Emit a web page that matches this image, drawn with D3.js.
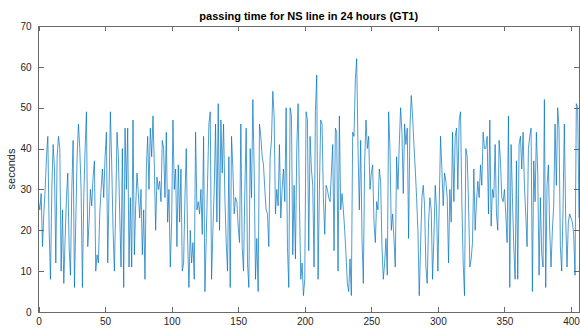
<!DOCTYPE html>
<html>
<head>
<meta charset="utf-8">
<script src="https://cdn.jsdelivr.net/npm/d3@7"></script>
<style>
  body { margin: 0; background: #fff; }
  text { font-family: "Liberation Sans", Arial, Helvetica, sans-serif; }
</style>
</head>
<body>
<script>
// passing time (seconds) per train
var passTime = [
  27, 25, 29, 16, 24, 30, 38, 43, 20, 8,
  30, 41, 35, 12, 38, 43, 40, 10, 25, 7,
  18, 28, 34, 16, 9, 30, 42, 6, 22, 38,
  46, 40, 30, 6, 28, 40, 49, 16, 22, 30,
  26, 33, 37, 10, 14, 12, 24, 30, 35, 28,
  38, 44, 12, 30, 49, 36, 20, 10, 26, 44,
  38, 24, 11, 40, 6, 45, 30, 45, 11, 28,
  11, 47, 14, 26, 34, 29, 23, 30, 14, 25,
  8, 35, 43, 30, 45, 38, 48, 36, 20, 33,
  30, 32, 27, 42, 40, 28, 44, 22, 30, 11,
  22, 47, 30, 35, 16, 36, 22, 35, 10, 12,
  28, 40, 18, 6, 20, 12, 17, 8, 44, 25,
  27, 24, 30, 19, 43, 5, 18, 32, 46, 49,
  8, 20, 30, 46, 22, 51, 20, 47, 34, 46,
  28, 17, 10, 38, 6, 43, 35, 24, 28, 27,
  21, 17, 46, 16, 10, 30, 45, 12, 6, 40,
  28, 52, 35, 8, 18, 5, 46, 43, 38, 36,
  30, 25, 24, 16, 38, 42, 54, 48, 24, 30,
  26, 41, 23, 30, 35, 27, 50, 16, 6, 50,
  48, 14, 31, 13, 40, 51, 27, 8, 12, 4,
  8, 49, 47, 15, 43, 35, 31, 11, 49, 58,
  8, 30, 47, 46, 28, 19, 31, 30, 28, 27,
  34, 41, 15, 45, 44, 10, 48, 25, 29, 25,
  20, 14, 7, 5, 13, 4, 44, 43, 57, 62,
  40, 25, 42, 18, 7, 37, 47, 40, 43, 30,
  34, 36, 22, 17, 27, 25, 35, 32, 16, 8,
  12, 18, 9, 49, 40, 20, 24, 18, 11, 38,
  30, 41, 50, 44, 29, 46, 41, 45, 18, 45,
  53, 48, 41, 35, 28, 20, 4, 16, 28, 31,
  26, 11, 7, 22, 28, 25, 8, 18, 31, 25,
  10, 26, 43, 35, 26, 34, 32, 28, 12, 30,
  22, 44, 27, 43, 45, 30, 47, 49, 27, 12,
  4, 40, 38, 27, 11, 13, 17, 35, 20, 27,
  32, 28, 36, 31, 44, 40, 40, 43, 24, 47,
  21, 30, 28, 41, 24, 20, 42, 37, 28, 27,
  30, 24, 17, 48, 6, 41, 28, 16, 8, 37,
  8, 41, 43, 35, 44, 31, 24, 16, 40, 43,
  45, 5, 37, 27, 44, 34, 9, 28, 14, 11,
  52, 6, 31, 36, 20, 11, 20, 26, 46, 31,
  50, 45, 16, 10, 25, 46, 23, 11, 22, 24,
  23, 22, 19, 9, 51, 50, 23
];
var xTicks = [0, 50, 100, 150, 200, 250, 300, 350, 400];
var yTicks = [0, 10, 20, 30, 40, 50, 60, 70];
var titleText = "passing time for NS line in 24 hours (GT1)";
var yLabel = "seconds";

var width = 580, height = 331;
var plotLeft = 38.5, plotRight = 579, plotTop = 26, plotBottom = 312;

var svg = d3.select("body").append("svg")
  .attr("width", width)
  .attr("height", height);

var xscale = d3.scaleLinear().domain([0, 406]).range([plotLeft, plotRight]);
var yscale = d3.scaleLinear().domain([0, 70]).range([plotBottom, plotTop]);

var axisColor = "#6a6a6a";

var gx = svg.append("g")
  .attr("transform", "translate(0," + plotBottom + ")")
  .call(d3.axisBottom(xscale).tickValues(xTicks).tickSizeInner(-5).tickSizeOuter(0).tickPadding(6));
var gy = svg.append("g")
  .attr("transform", "translate(" + plotLeft + ",0)")
  .call(d3.axisLeft(yscale).tickValues(yTicks).tickSizeInner(-5).tickSizeOuter(0).tickPadding(7));
var gt = svg.append("g")
  .attr("transform", "translate(0," + plotTop + ")")
  .call(d3.axisTop(xscale).tickValues(xTicks).tickSizeInner(-5).tickSizeOuter(0).tickFormat(""));
var gr = svg.append("g")
  .attr("transform", "translate(" + plotRight + ",0)")
  .call(d3.axisRight(yscale).tickValues(yTicks).tickSizeInner(-5).tickSizeOuter(0).tickFormat(""));

[gx, gy, gt, gr].forEach(function(g) {
  g.select(".domain").remove();
  g.selectAll(".tick line").attr("stroke", axisColor).attr("shape-rendering", "crispEdges");
  g.selectAll(".tick text").attr("fill", "#262626").style("font-size", "10px");
});

svg.append("rect")
  .attr("x", plotLeft).attr("y", plotTop)
  .attr("width", plotRight - plotLeft).attr("height", plotBottom - plotTop)
  .attr("fill", "none").attr("stroke", axisColor).attr("stroke-width", 1)
  .attr("shape-rendering", "crispEdges");

var line = d3.line()
  .x(function(d, i) { return xscale(i); })
  .y(function(d) { return yscale(d); });

svg.append("path")
  .datum(passTime)
  .attr("d", line)
  .attr("fill", "none")
  .attr("stroke", "#0072BD")
  .attr("stroke-width", 0.7);

svg.append("text")
  .attr("x", (plotLeft + plotRight) / 2).attr("y", 20)
  .attr("text-anchor", "middle")
  .style("font-size", "11px").style("font-weight", "bold")
  .attr("fill", "#000")
  .text(titleText);

svg.append("text")
  .attr("transform", "translate(15," + (plotTop + plotBottom) / 2 + ") rotate(-90)")
  .attr("text-anchor", "middle")
  .style("font-size", "11px")
  .attr("fill", "#262626")
  .text(yLabel);
</script>
</body>
</html>
